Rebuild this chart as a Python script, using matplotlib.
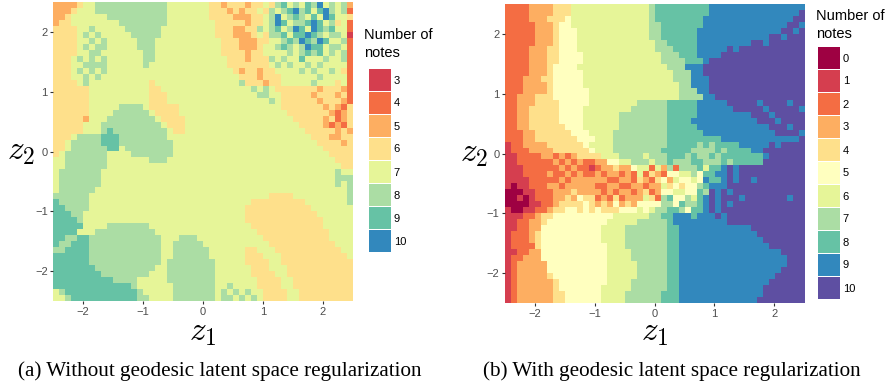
import numpy as np
import matplotlib
matplotlib.use("Agg")
import matplotlib.pyplot as plt
from matplotlib.colors import ListedColormap

# Spectral palette (ggplot scale), panel (a) has no level for the pale yellow
palette_a = ["#D53E4F", "#F46D43", "#FDAE61", "#FEE08B",
             "#E6F598", "#ABDDA4", "#66C2A5", "#3288BD"]
palette_b = ["#9E0142", "#D53E4F", "#F46D43", "#FDAE61", "#FEE08B", "#FFFFBF",
             "#E6F598", "#ABDDA4", "#66C2A5", "#3288BD", "#5E4FA2"]

ticks = [-2, -1, 0, 1, 2]
levels_a = [3, 4, 5, 6, 7, 8, 9, 10]
levels_b = [0, 1, 2, 3, 4, 5, 6, 7, 8, 9, 10]
caption_a = "(a) Without geodesic latent space regularization"
caption_b = "(b) With geodesic latent space regularization"

# number of notes per latent cell, top row first, A = 10
grid_a = [
    "5555677888 8888888887 7777776656 6656676897 8798A78785",
    "5556777888 8888888887 7777776665 6566768789 A8979A8784",
    "5567777778 8888888887 7777776666 5556678A78 98797A9776",
    "5667777777 7888888887 7777777666 6656678A97 889A978674",
    "6666778777 7788888877 7777777666 5566878978 A97A989774",
    "6666787877 7778888877 7777777666 5556768897 99A9878873",
    "6666778787 7777888777 7777777766 6555667789 8A98A97784",
    "6666787887 7777888777 7777777766 6555677898 78A9978874",
    "6666778877 7777788777 7777777766 6656677778 7898978784",
    "6667878787 7777788777 7777777776 6656668787 7977787784",
    "6667788887 7777787777 7777777776 6666667878 7787877774",
    "6667878787 7777777777 7777777777 6566566777 7878778764",
    "6667787877 7777777777 7777777777 7666566677 7777877774",
    "6666787777 7777776777 7777777777 7866656677 7778777674",
    "6666667777 7777776677 7777777777 7778787666 6666566654",
    "6666667777 7777776667 7777777777 7777887766 6665666564",
    "6666667777 7777776667 7777777777 7777778766 6666566654",
    "6666667777 7888876666 6777777777 7777777766 6666656546",
    "6666667777 8888887666 6777777777 7777777776 6666665456",
    "6666657778 8888888766 6677777777 7777777777 6666656456",
    "6666677788 8888888876 6677777777 7777777777 7666654546",
    "6666677789 8888888887 6677777777 7777777777 7766666565",
    "6667888899 9888888887 7777777777 7777777777 7776665566",
    "6678888899 9888888888 7777777777 7777777777 7777666656",
    "6678888889 9788888888 7777777777 7777777777 7777766666",
    "6788888887 7778888888 7777777777 7777777777 7777776666",
    "7788888887 7777778887 7777777777 7777777777 7777777666",
    "7788888887 7777777777 7777777777 7777777777 7777777766",
    "7888888877 7777777777 7777777777 7777777777 7777777877",
    "7888888877 7777777777 7777777777 7777777777 7777777888",
    "7888888877 7777777777 7777777777 7777777777 7777777878",
    "7888888777 7777777777 7777777777 7777777777 7777777778",
    "8888887777 7777777777 7777777777 7777776666 7777777778",
    "9888887777 7777777777 7777777777 7776666666 6677777778",
    "9988887777 7777777777 7777777777 7766666666 6667777777",
    "9998877777 7777777777 7777777777 7766666666 6666777777",
    "9999877777 7777777777 7777777777 7766666666 6666677777",
    "9999977778 8888887777 7777777777 7776666666 6666677777",
    "9999777888 8888888777 7777777777 7777666666 6666667777",
    "9988998888 8888888877 7888777777 7777766666 6666667777",
    "9889998888 8888888877 8888877777 7777776666 6666666777",
    "8899998888 8888888877 8888887777 7766777666 6666666677",
    "9999998888 8888888877 8888887777 7766677766 6666666667",
    "9999998888 8888888878 8888888777 7766667766 6666666666",
    "9999999888 8888888778 8888888777 7776667776 6666666666",
    "9999999988 8888887778 8888888777 7776666776 6666666666",
    "9999999999 8888777778 8888888777 7777666677 6666666666",
    "9999999999 9998777777 8888888778 7777666677 6666666666",
    "7899999999 9999877777 8888888787 8787766667 7666666666",
    "7789999999 9999887777 8888888788 7878766667 7666666666",
]

grid_b = [
    "2222333344 4666666666 6666788888 8888999999 9999999999",
    "2222333344 4666666666 6666788888 8888999999 999999999A",
    "2222333444 5666666666 6666788888 8889999999 99999999AA",
    "2222233345 5666666666 6666778888 8889999999 9999999AA9",
    "2222233345 5566666666 6666778888 8899999999 999999AA9A",
    "2222233345 5566666666 6666778888 8899999999 9999AA9AAA",
    "2222233345 5566666666 6666677888 8899999999 9AA9AAAAAA",
    "2222333445 5566666666 6666677788 8899999A9A AAAAAAAAAA",
    "2222333445 5556666666 6666667778 889999AAAA AAAAAAAAAA",
    "2222333445 5556666666 6666667777 8889AAAAAA AAAAAAAAAA",
    "2222333455 5566666666 6666666777 999AAAAAAA AAAAAAAAAA",
    "2222333455 5556666666 6666666677 799AAAAAAA AAAAAAAAAA",
    "2223334455 5556666666 6666666677 7999AAAAAA AAAAAAAAAA",
    "2223333455 5556666666 6666666667 7999AAAAAA AAAAAAAAAA",
    "2223333455 5555666666 6666666667 7799AAAAAA AAAAAAAAAA",
    "2233344455 5555666666 6666666667 77799AAAAA AAAAAAAAAA",
    "2233344445 5555666666 6677777888 8899999AAA AA9AAAA9AA",
    "2233444445 5556666666 6777777888 88999999AA AAA9AAAAA9",
    "2233444445 5556666667 7777777888 8899999999 9AAA9AAAAA",
    "2233444445 5556666667 7777777888 8999999999 99AAA9AAAA",
    "2233444444 5556666667 7777777888 8899999999 9999AAA9AA",
    "2223344444 4555666677 7777777888 8889999999 99999AAAA9",
    "2223344444 4455566677 7777777888 8888889999 999999999A",
    "1223333444 4445666677 7777777888 8878788889 9999A9AAAA",
    "1222333344 4444566677 7777778888 8777787888 899AAAAAAA",
    "1122223323 2344446667 7776777888 7877878888 8889AAAAAA",
    "1122222232 3232233556 6777677877 7887778788 888AAAAAAA",
    "1112222223 2322123343 3566263727 7786889A9A AAAAAAAAAA",
    "1112222322 3232232332 3262432556 6758899A9A AAAAAAAAAA",
    "1111222223 2333333223 3243245365 5659889A9A A9AAAAAAAA",
    "1011222332 3333322332 2332336454 5578999AAA AAAAAAAAAA",
    "0001122233 3433332323 3234235566 5587A9A9AA AAAAAAAAAA",
    "0010122233 4354423242 3336427855 7689A9AAA9 AAAAAAA9AA",
    "0000112234 4445434353 4355557758 7789A9A9AA AAAAAAAAAA",
    "1001122344 5545454445 5565677887 5889A9AAAA AAAAAAAAAA",
    "1112234455 5555555566 6666778899 98999A9AAA AAAAAAAAAA",
    "1122334555 5555555666 6677777899 9999999AAA AAAAAAAAAA",
    "1122335555 5555556666 7777777889 9999999999 9AAAAAAAAA",
    "1222345555 5555556666 7777777889 9999999999 99AAAAAAAA",
    "1222345555 5555556666 7777777889 9999999999 999AAAAAAA",
    "1222245555 5555555666 7777777889 9999999999 9999AAAAAA",
    "1122335555 5555555666 6777777889 9999999999 999999AAAA",
    "1223335555 5555555666 6777777889 9999999999 9999999AAA",
    "1233333555 5555555666 6677777889 9999999999 9999999AAA",
    "1233333555 5555555666 6677777889 9999999999 999999AAAA",
    "1233333455 5555555666 6677777889 9999999999 99999AAAAA",
    "1233333345 5555555666 6777777889 9999999999 9999AAAAAA",
    "1233333345 5555556666 6777777889 9999999999 999AAAAAAA",
    "1233333344 5555556666 7777778889 9999999999 999AAAAAAA",
    "1233333344 5555556666 7777778889 9999999999 99AAAAAAAA",
]


def to_array(rows):
    return np.array([[int(c, 16) for c in r.replace(" ", "")] for r in rows])


W, H = 888, 387
plt.rcParams["font.family"] = ["Liberation Sans", "DejaVu Sans"]
plt.rcParams["mathtext.fontset"] = "cm"


def px_axes(fig, left, top, right, bottom):
    return fig.add_axes([left / W, 1 - bottom / H, (right - left) / W, (bottom - top) / H])


def panel(fig, rows, box, levels, colors, legend_box, title_xy, zy_x, z1_y):
    cmap = ListedColormap(colors)
    vmin, vmax = levels[0] - 0.5, levels[-1] + 0.5
    ax = px_axes(fig, *box)
    ax.imshow(to_array(rows), extent=[-2.5, 2.5, -2.5, 2.5], aspect="auto",
              cmap=cmap, vmin=vmin, vmax=vmax, interpolation="nearest")
    ax.set_xticks(ticks)
    ax.set_yticks(ticks)
    ax.set_xticklabels(["\u2212%d" % -t if t < 0 else str(t) for t in ticks])
    ax.set_yticklabels(["\u2212%d" % -t if t < 0 else str(t) for t in ticks])
    ax.tick_params(length=2.5, width=0.8, color="#333333", labelcolor="#4D4D4D",
                   labelsize=8, pad=1.5)
    for s in ax.spines.values():
        s.set_visible(False)

    # legend as a stack of coloured cells
    lax = px_axes(fig, *legend_box)
    n = len(levels)
    lax.pcolormesh(np.array([0, 1]), np.arange(n + 1),
                   np.array(levels)[::-1].reshape(-1, 1),
                   cmap=cmap, vmin=vmin, vmax=vmax, edgecolors="white", linewidth=0.6)
    lax.set_xlim(0, 1)
    lax.set_ylim(0, n)
    lax.set_xticks([])
    lax.yaxis.tick_right()
    lax.set_yticks(np.arange(n) + 0.5)
    lax.set_yticklabels([str(v) for v in levels[::-1]])
    lax.tick_params(length=0, labelsize=8, pad=2, labelcolor="black")
    for s in lax.spines.values():
        s.set_visible(False)

    fig.text(title_xy[0] / W, 1 - title_xy[1] / H, "Number of\nnotes", fontsize=10.5,
             va="top", ha="left", linespacing=1.35)
    fig.text(zy_x / W, 1 - (box[1] + box[3]) / 2 / H, r"$z_2$", fontsize=24,
             ha="center", va="center")
    fig.text((box[0] + box[2]) / 2 / W, 1 - z1_y / H, r"$z_1$", fontsize=24,
             ha="center", va="center")


fig = plt.figure(figsize=(W / 100, H / 100), dpi=100)
panel(fig, grid_a, (53.3, 2, 353, 301), levels_a, palette_a, (368, 68, 391, 252), (364, 28), 21, 333)
panel(fig, grid_b, (505, 4, 804, 303), levels_b, palette_b, (817, 46, 840, 299), (816, 9), 474, 333)

fig.text(220 / W, 1 - 371 / H, caption_a, family="Liberation Serif", fontsize=15.2,
         ha="center", va="center")
fig.text(672 / W, 1 - 371 / H, caption_b, family="Liberation Serif", fontsize=15.2,
         ha="center", va="center")

fig.savefig("out.png", dpi=100)
